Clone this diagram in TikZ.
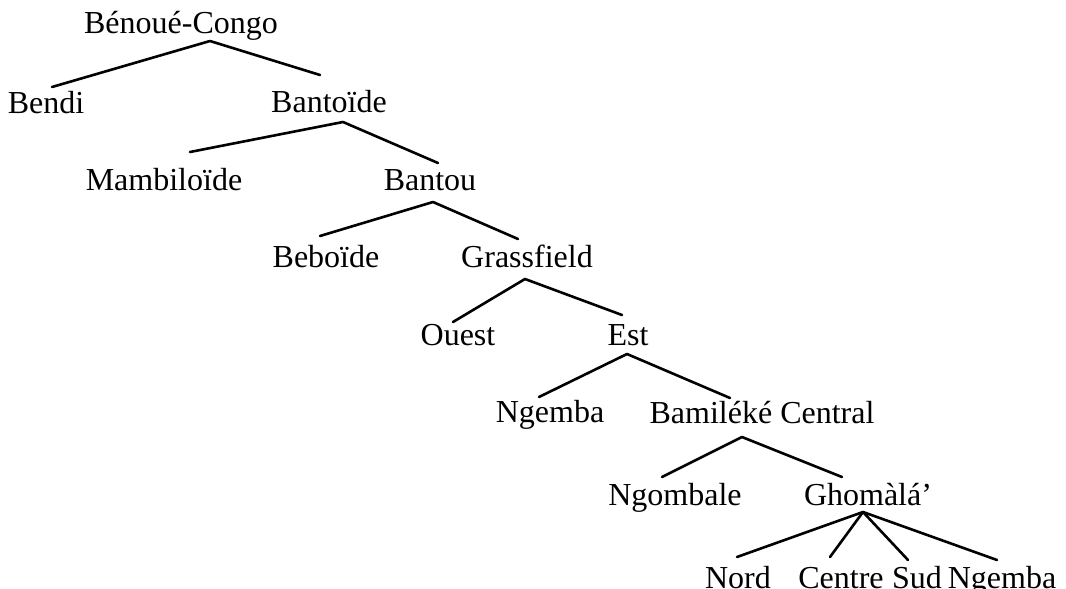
\documentclass[tikz,border=0pt]{standalone}
\usepackage{fontspec}
\setmainfont{Liberation Serif}
\begin{document}
\begin{tikzpicture}[x=1pt,y=-1pt,
  lang/.style={anchor=base,inner sep=0pt,font=\fontsize{32}{38}\selectfont},
  branch/.style={draw,line width=2.6pt,line cap=round,line join=round}]
\useasboundingbox (0,0) rectangle (1066,589);
% labels
\node[lang] (bc) at (181,33) {Bénoué-Congo};
\node[lang] (bendi) at (46,113) {Bendi};
\node[lang] (bantoide) at (329,112) {Bantoïde};
\node[lang] (mambi) at (164,190) {Mambiloïde};
\node[lang] (bantou) at (430,190) {Bantou};
\node[lang] (beboide) at (326,267) {Beboïde};
\node[lang] (grass) at (527,267) {Grassfield};
\node[lang] (ouest) at (458,345) {Ouest};
\node[lang] (est) at (628,345) {Est};
\node[lang] (ngemba1) at (550,422) {Ngemba};
\node[lang] (bamileke) at (762,423) {Bamiléké Central};
\node[lang] (ngombale) at (675,505) {Ngombale};
\node[lang] (ghomala) at (868,505) {Ghomàlá’};
\node[lang] (nord) at (738,588) {Nord};
\node[lang] (centre) at (841,588) {Centre};
\node[lang] (sud) at (917,588) {Sud};
\node[lang] (ngemba2) at (1002,588) {Ngemba};
% branch points
\coordinate (bc-a) at (210,41);
\coordinate (bendi-t) at (52,87);
\coordinate (bantoide-t) at (320,75);
\coordinate (bantoide-a) at (343,122);
\coordinate (mambi-t) at (190,152);
\coordinate (bantou-t) at (438,163);
\coordinate (bantou-a) at (433,202);
\coordinate (beboide-t) at (320,236);
\coordinate (grass-t) at (518,239);
\coordinate (grass-a) at (525,279);
\coordinate (ouest-t) at (453,322);
\coordinate (est-t) at (622,315);
\coordinate (est-a) at (627,354);
\coordinate (ngemba1-t) at (539,397);
\coordinate (bamileke-t) at (730,398);
\coordinate (bamileke-a) at (742,437);
\coordinate (ngombale-t) at (662,477);
\coordinate (ghomala-t) at (842,477);
\coordinate (ghomala-a) at (863,512);
\coordinate (nord-t) at (737,557);
\coordinate (centre-t) at (830,557);
\coordinate (sud-t) at (908,560);
\coordinate (ngemba2-t) at (997,560);
% connectors
\draw[branch] (bendi-t) -- (bc-a) -- (bantoide-t);
\draw[branch] (mambi-t) -- (bantoide-a) -- (bantou-t);
\draw[branch] (beboide-t) -- (bantou-a) -- (grass-t);
\draw[branch] (ouest-t) -- (grass-a) -- (est-t);
\draw[branch] (ngemba1-t) -- (est-a) -- (bamileke-t);
\draw[branch] (ngombale-t) -- (bamileke-a) -- (ghomala-t);
\draw[branch] (ghomala-a) -- (nord-t);
\draw[branch] (ghomala-a) -- (centre-t);
\draw[branch] (ghomala-a) -- (sud-t);
\draw[branch] (ghomala-a) -- (ngemba2-t);
\end{tikzpicture}
\end{document}
